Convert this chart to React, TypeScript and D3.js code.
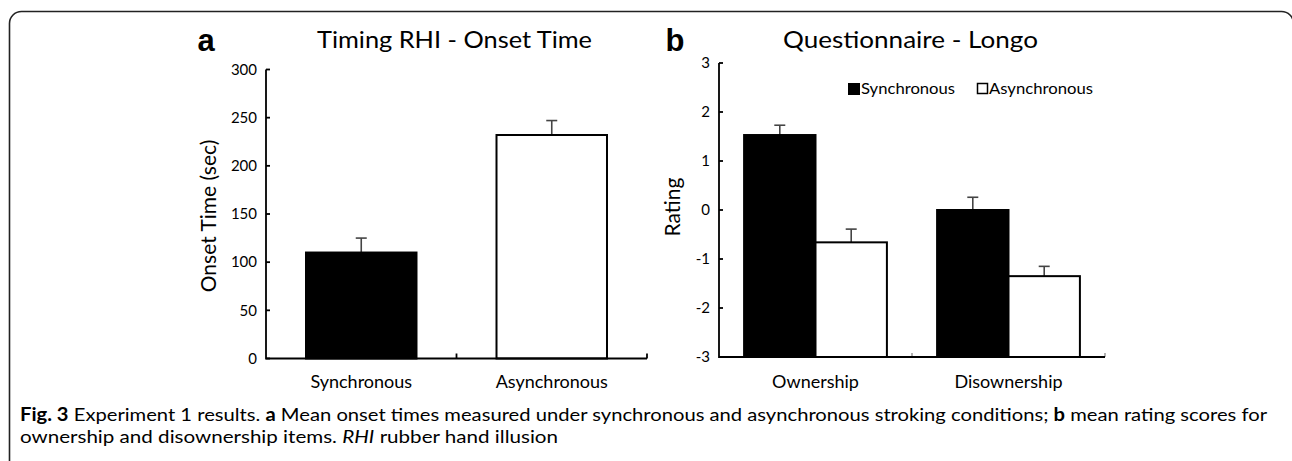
import React from "react";
import * as d3 from "d3";

// ---------- Data ----------
const onsetCategories = ["Synchronous", "Asynchronous"];
const onsetMeans = [110, 232];
const onsetErrors = [15, 15];
const onsetTicks = [0, 50, 100, 150, 200, 250, 300];

const ratingCategories = ["Ownership", "Disownership"];
const ratingSeries = ["Synchronous", "Asynchronous"];
const ratingSync = [1.53, 0.0];
const ratingAsync = [-0.66, -1.35];
const ratingSyncErr = [0.2, 0.26];
const ratingAsyncErr = [0.27, 0.2];
const ratingTicks = [-3, -2, -1, 0, 1, 2, 3];

const titleA = "Timing RHI - Onset Time";
const titleB = "Questionnaire - Longo";
const yLabelA = "Onset Time (sec)";
const yLabelB = "Rating";

const W = 1292;
const H = 461;
const FONT = "Lato, 'Open Sans', sans-serif";
const CAP_FONT = "Lato, 'Noto Sans', sans-serif";

function ErrorBar({ x, y0, y1 }: { x: number; y0: number; y1: number }) {
  return (
    <g stroke="#444" strokeWidth={1.6}>
      <line x1={x} x2={x} y1={y0} y2={y1} />
      <line x1={x - 5.5} x2={x + 5.5} y1={y1} y2={y1} />
    </g>
  );
}

function PanelA() {
  const x0 = 266, x1 = 647, yTop = 69.5, yBot = 358.5;
  const y = d3.scaleLinear().domain([0, 300]).range([yBot, yTop]);
  const x = d3.scaleBand<string>().domain(onsetCategories).range([x0, x1]).paddingInner(0.42).paddingOuter(0.21);
  const step = (x1 - x0) / onsetCategories.length;
  return (
    <g>
      <text x={206} y={51} fontFamily="'Liberation Sans', Arial, sans-serif" fontWeight="bold" fontSize={31} textAnchor="middle">a</text>
      <text x={317} y={48} fontFamily={FONT} fontSize={23} textLength={275} lengthAdjust="spacingAndGlyphs">{titleA}</text>
      {onsetCategories.map((c, i) => {
        const bx = x(c)!;
        const bw = x.bandwidth();
        const v = onsetMeans[i];
        return (
          <g key={c}>
            <ErrorBar x={bx + bw / 2} y0={y(v)} y1={y(v + onsetErrors[i])} />
            <rect x={bx} y={y(v)} width={bw} height={y(0) - y(v)} fill={i === 0 ? "#000" : "#fff"} stroke="#000" strokeWidth={2} />
          </g>
        );
      })}
      <path d={`M${x0},${yTop} V${yBot} H${x1}`} fill="none" stroke="#000" strokeWidth={1.8} />
      {onsetTicks.map((t) => (
        <g key={t}>
          <line x1={x0} x2={x0 + 4} y1={y(t)} y2={y(t)} stroke="#000" strokeWidth={1.8} />
          <text x={257} y={y(t)} dy="0.35em" textAnchor="end" fontFamily={FONT} fontSize={15}>{t}</text>
        </g>
      ))}
      {onsetCategories.map((c, i) => (
        <line key={c} x1={x0 + step * (i + 1)} x2={x0 + step * (i + 1)} y1={yBot} y2={yBot - 5} stroke="#000" strokeWidth={1.8} />
      ))}
      {onsetCategories.map((c) => (
        <text key={c} x={x(c)! + x.bandwidth() / 2} y={388} textAnchor="middle" fontFamily={FONT} fontSize={18}>{c}</text>
      ))}
      <text transform={`translate(216,216) rotate(-90)`} textAnchor="middle" fontFamily={FONT} fontSize={21}>{yLabelA}</text>
    </g>
  );
}

function PanelB() {
  const x0 = 719, x1 = 1105, yTop = 63, yBot = 357;
  const y = d3.scaleLinear().domain([-3, 3]).range([yBot, yTop]);
  const x = d3.scaleBand<string>().domain(ratingCategories).range([x0, x1]).paddingInner(0.26).paddingOuter(0.13);
  const xs = d3.scaleBand<string>().domain(ratingSeries).range([0, x.bandwidth()]);
  const step = (x1 - x0) / ratingCategories.length;
  const series = [
    { name: ratingSeries[0], vals: ratingSync, errs: ratingSyncErr, fill: "#000" },
    { name: ratingSeries[1], vals: ratingAsync, errs: ratingAsyncErr, fill: "#fff" },
  ];
  return (
    <g>
      <text x={675} y={51} fontFamily="'Liberation Sans', Arial, sans-serif" fontWeight="bold" fontSize={31} textAnchor="middle">b</text>
      <text x={783} y={48} fontFamily={FONT} fontSize={23} textLength={255} lengthAdjust="spacingAndGlyphs">{titleB}</text>
      {series.map((s) =>
        ratingCategories.map((c, i) => {
          const bx = x(c)! + xs(s.name)!;
          const bw = xs.bandwidth();
          const v = s.vals[i];
          return (
            <g key={s.name + c}>
              <ErrorBar x={bx + bw / 2} y0={y(v)} y1={y(v + s.errs[i])} />
              <rect x={bx} y={y(v)} width={bw} height={y(-3) - y(v)} fill={s.fill} stroke="#000" strokeWidth={2} />
            </g>
          );
        })
      )}
      <path d={`M${x0},${yTop} V${yBot} H${x1}`} fill="none" stroke="#000" strokeWidth={1.8} />
      {ratingTicks.map((t) => (
        <g key={t}>
          <line x1={x0} x2={x0 + 4} y1={y(t)} y2={y(t)} stroke="#000" strokeWidth={1.8} />
          <text x={710} y={y(t)} dy="0.35em" textAnchor="end" fontFamily={FONT} fontSize={15}>{t}</text>
        </g>
      ))}
      {ratingCategories.map((c, i) => (
        <line key={c} x1={x0 + step * (i + 1)} x2={x0 + step * (i + 1)} y1={yBot} y2={yBot - 4} stroke="#000" strokeWidth={1.2} opacity={0.5} />
      ))}
      {ratingCategories.map((c) => (
        <text key={c} x={x(c)! + x.bandwidth() / 2} y={388} textAnchor="middle" fontFamily={FONT} fontSize={18}>{c}</text>
      ))}
      <text transform={`translate(680,207) rotate(-90)`} textAnchor="middle" fontFamily={FONT} fontSize={21}>{yLabelB}</text>
      {/* legend */}
      <rect x={848.5} y={83.5} width={11} height={11} fill="#000" stroke="#000" />
      <text x={861} y={94} fontFamily={FONT} fontSize={15} textLength={94} lengthAdjust="spacingAndGlyphs">{ratingSeries[0]}</text>
      <rect x={977.5} y={83.5} width={10} height={10} fill="#fff" stroke="#000" strokeWidth={1.5} />
      <text x={989} y={94} fontFamily={FONT} fontSize={15} textLength={104} lengthAdjust="spacingAndGlyphs">{ratingSeries[1]}</text>
    </g>
  );
}

export default function App() {
  return (
    <svg width={W} height={H} style={{ position: "absolute", left: 0, top: 0, background: "#fff" }}>
      <rect x={0} y={0} width={W} height={H} fill="#fff" />
      <rect x={9.5} y={11.5} width={1284} height={470} rx={12} fill="none" stroke="#222" strokeWidth={1.6} />
      <PanelA />
      <PanelB />
      <text x={20} y={421} fontFamily={CAP_FONT} fontSize={18} textLength={1247} lengthAdjust="spacingAndGlyphs">
        <tspan fontWeight="bold">Fig. 3</tspan>
        <tspan> Experiment 1 results. </tspan>
        <tspan fontWeight="bold">a</tspan>
        <tspan> Mean onset times measured under synchronous and asynchronous stroking conditions; </tspan>
        <tspan fontWeight="bold">b</tspan>
        <tspan> mean rating scores for</tspan>
      </text>
      <text x={20} y={443} fontFamily={CAP_FONT} fontSize={18} textLength={538} lengthAdjust="spacingAndGlyphs">
        <tspan>ownership and disownership items. </tspan>
        <tspan fontStyle="italic">RHI</tspan>
        <tspan> rubber hand illusion</tspan>
      </text>
    </svg>
  );
}
